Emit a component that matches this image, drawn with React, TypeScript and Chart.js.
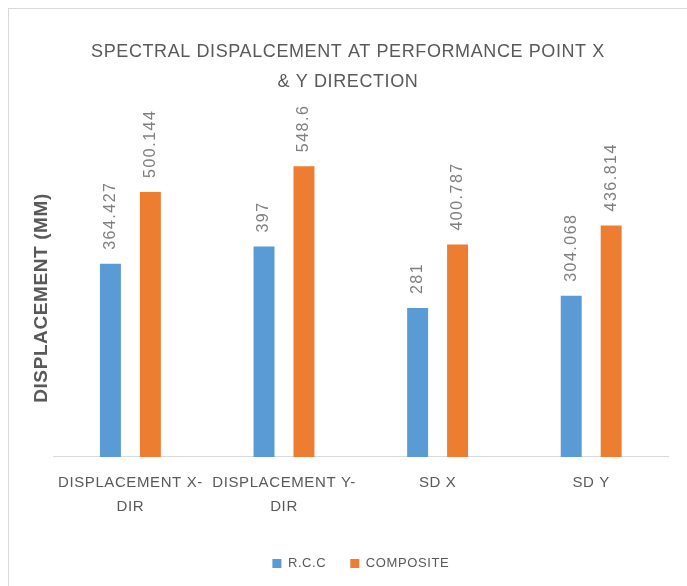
import React, { useEffect, useRef } from 'react';
import { Chart, registerables } from 'chart.js';

Chart.register(...registerables);

const categories: (string | string[])[] = [['DISPLACEMENT X-', 'DIR'], ['DISPLACEMENT Y-', 'DIR'], 'SD X', 'SD Y'];
const rccValues = [364.427, 397, 281, 304.068];
const compositeValues = [500.144, 548.6, 400.787, 436.814];
const seriesNames = ['R.C.C', 'COMPOSITE'];
const titleLines = ['SPECTRAL DISPALCEMENT AT PERFORMANCE POINT X', '& Y DIRECTION'];
const yAxisTitle = 'DISPLACEMENT (MM)';
const yMin = 0;
const yMax = 600;

const FONT = "'Liberation Sans', Arial, sans-serif";
const SPACING = '0.6px';
const LABEL_SPACING = '1.5px';

const spacingPlugin = {
  id: 'letterSpacing',
  beforeLayout(chart: any) {
    chart.ctx.letterSpacing = SPACING;
  },
  beforeDraw(chart: any) {
    chart.ctx.letterSpacing = SPACING;
  },
};

const valueLabelPlugin = {
  id: 'valueLabels',
  afterDatasetsDraw(chart: any) {
    const ctx = chart.ctx;
    ctx.save();
    ctx.letterSpacing = LABEL_SPACING;
    ctx.font = `16px ${FONT}`;
    ctx.fillStyle = '#7f7f7f';
    ctx.textAlign = 'left';
    ctx.textBaseline = 'middle';
    chart.data.datasets.forEach((ds: any, di: number) => {
      const meta = chart.getDatasetMeta(di);
      meta.data.forEach((bar: any, i: number) => {
        ctx.save();
        ctx.translate(bar.x, bar.y - 14);
        ctx.rotate(-Math.PI / 2);
        ctx.fillText(String(ds.data[i]), 0, 0);
        ctx.restore();
      });
    });
    ctx.restore();
  },
};

export default function App() {
  const ref = useRef<HTMLCanvasElement | null>(null);

  useEffect(() => {
    if (!ref.current) return;
    const chart = new Chart(ref.current, {
      type: 'bar',
      data: {
        labels: categories,
        datasets: [
          {
            label: seriesNames[0],
            data: rccValues,
            backgroundColor: '#5b9bd5',
            categoryPercentage: 0.52,
            barPercentage: 0.525,
          },
          {
            label: seriesNames[1],
            data: compositeValues,
            backgroundColor: '#ed7d31',
            categoryPercentage: 0.52,
            barPercentage: 0.525,
          },
        ],
      },
      options: {
        animation: false,
        responsive: true,
        maintainAspectRatio: false,
        layout: { padding: { left: 19, right: 19, top: 0, bottom: 6 } },
        plugins: {
          title: {
            display: true,
            text: titleLines,
            color: '#595959',
            font: { family: FONT, size: 18, weight: 'normal', lineHeight: 1.667 },
            padding: { top: 28.5, bottom: 41.5 },
          },
          legend: {
            position: 'bottom',
            fullSize: false,
            labels: {
              boxWidth: 9,
              boxHeight: 9,
              padding: 24,
              color: '#595959',
              font: { family: FONT, size: 13, lineHeight: 1 },
            },
          },
          tooltip: { enabled: false },
        },
        scales: {
          x: {
            grid: { display: false, drawTicks: false },
            border: { display: true, color: '#d9d9d9', width: 1 },
            ticks: {
              color: '#595959',
              font: { family: FONT, size: 15, lineHeight: 1.567 },
              padding: 14.5,
              maxRotation: 0,
              autoSkip: false,
            },
          },
          y: {
            min: yMin,
            max: yMax,
            grid: { display: false, drawTicks: false },
            border: { display: false },
            ticks: { display: false },
            title: {
              display: true,
              text: yAxisTitle,
              color: '#595959',
              font: { family: FONT, size: 19, weight: 'bold', lineHeight: 1.2 },
              padding: { top: 2.6, bottom: 0.2 },
            },
          },
        },
      },
      plugins: [spacingPlugin, valueLabelPlugin],
    } as any);
    return () => chart.destroy();
  }, []);

  return (
    <div
      style={{
        position: 'absolute',
        left: 8,
        top: 8,
        width: 679,
        height: 578,
        boxSizing: 'border-box',
        borderTop: '1px solid #d9d9d9',
        borderLeft: '1px solid #d9d9d9',
        background: '#ffffff',
      }}
    >
      <div style={{ position: 'relative', width: 678, height: 577 }}>
        <canvas ref={ref} />
      </div>
    </div>
  );
}
